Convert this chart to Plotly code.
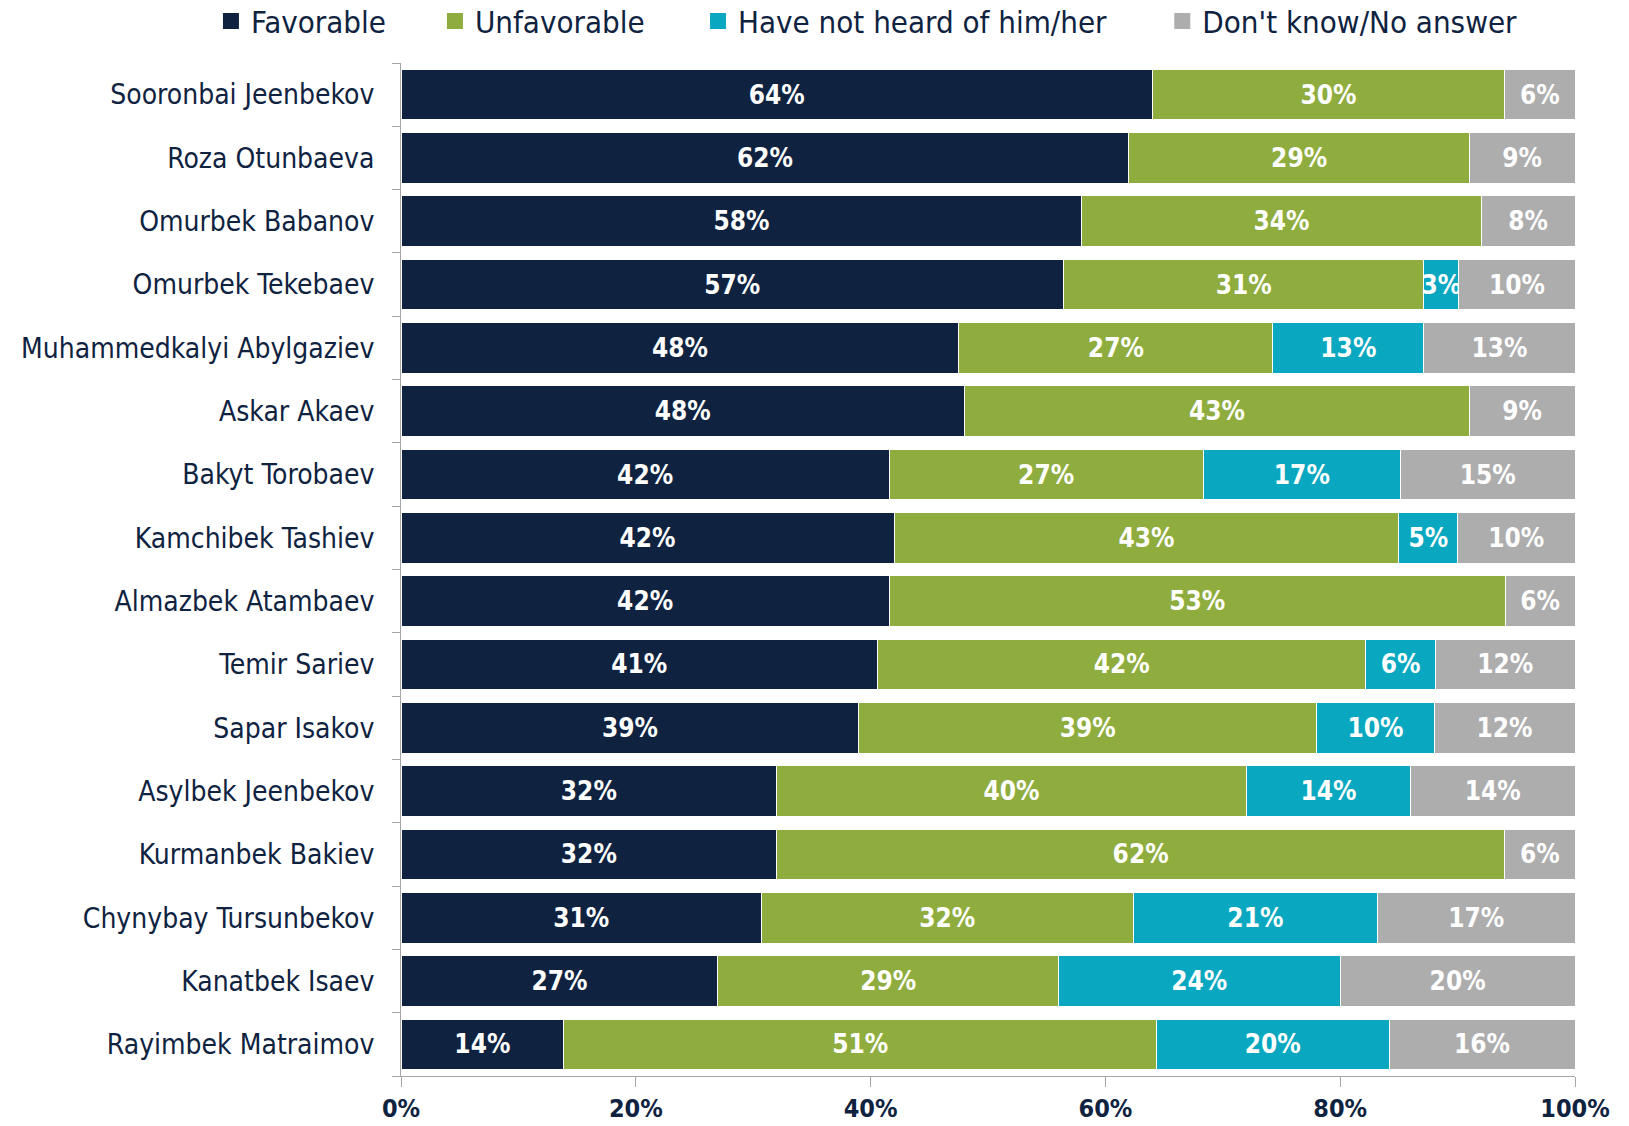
import plotly.graph_objects as go

# Survey: favourability of Kyrgyz political figures (shares of respondents, %)
politicians = [
    "Sooronbai Jeenbekov", "Roza Otunbaeva", "Omurbek Babanov", "Omurbek Tekebaev",
    "Muhammedkalyi Abylgaziev", "Askar Akaev", "Bakyt Torobaev", "Kamchibek Tashiev",
    "Almazbek Atambaev", "Temir Sariev", "Sapar Isakov", "Asylbek Jeenbekov",
    "Kurmanbek Bakiev", "Chynybay Tursunbekov", "Kanatbek Isaev", "Rayimbek Matraimov",
]
favorable = [64, 62, 58, 57, 48, 48, 42, 42, 42, 41, 39, 32, 32, 31, 27, 14]
unfavorable = [30, 29, 34, 31, 27, 43, 27, 43, 53, 42, 39, 40, 62, 32, 29, 51]
not_heard = [0, 0, 0, 3, 13, 0, 17, 5, 0, 6, 10, 14, 0, 21, 24, 20]
dont_know = [6, 9, 8, 10, 13, 9, 15, 10, 6, 12, 12, 14, 6, 17, 20, 16]

series_names = ["Favorable", "Unfavorable", "Have not heard of him/her", "Don't know/No answer"]
x_ticks = [0, 20, 40, 60, 80, 100]

colors = ["#0F2341", "#8FAD3E", "#09A8C0", "#ADADAE"]
FONT = "DejaVu Sans Condensed"
TEXT_COLOR = "#0F2341"
AXIS_GREY = "#A6A6A6"

fig = go.Figure()
series = [favorable, unfavorable, not_heard, dont_know]
for name, vals, col in zip(series_names, series, colors):
    fig.add_trace(go.Bar(
        y=politicians,
        x=vals,
        orientation="h",
        name=name,
        marker=dict(color=col, line=dict(width=1, color="white")),
        text=[f"{v}%" if v > 0 else "" for v in vals],
        textposition="inside",
        insidetextanchor="middle",
        textangle=0,
        constraintext="none",
        textfont=dict(family=FONT, size=26, color="white", weight="bold"),
        hovertemplate="%{y}: %{text}<extra>" + name + "</extra>",
        showlegend=False,
    ))

# Legend entries: square swatches, each in its own legend box
legend_x = [0.1295, 0.267, 0.4285, 0.7135]
legend_ids = ["legend", "legend2", "legend3", "legend4"]
for name, col, lid in zip(series_names, colors, legend_ids):
    fig.add_trace(go.Scatter(
        x=[None], y=[None], mode="markers", name=name,
        marker=dict(symbol="square", size=16, color=col),
        legend=lid, showlegend=True, hoverinfo="skip",
    ))

legend_common = dict(
    orientation="h", xref="container", yref="container",
    y=0.981, yanchor="middle", xanchor="left",
    font=dict(family=FONT, size=31, color=TEXT_COLOR),
    bgcolor="rgba(0,0,0,0)", borderwidth=0, itemsizing="trace",
)
layout_legends = {}
for lid, lx in zip(legend_ids, legend_x):
    layout_legends[lid] = dict(legend_common, x=lx)

fig.update_layout(
    barmode="stack",
    barnorm="percent",
    bargap=0.2,
    width=1629,
    height=1126,
    margin=dict(l=401, r=54, t=63, b=50, autoexpand=False),
    plot_bgcolor="white",
    paper_bgcolor="white",
    font=dict(family=FONT, color=TEXT_COLOR),
    **layout_legends,
)

fig.update_xaxes(
    range=[0, 100],
    tickvals=x_ticks,
    ticktext=[f"{t}%" for t in x_ticks],
    tickfont=dict(family=FONT, size=25, color=TEXT_COLOR, weight="bold"),
    showgrid=False,
    zeroline=False,
    showline=True,
    linecolor=AXIS_GREY,
    linewidth=1,
    ticks="outside",
    ticklen=10,
    tickcolor=AXIS_GREY,
    ticklabelstandoff=0,
    automargin=False,
)
fig.update_yaxes(
    categoryorder="array",
    categoryarray=politicians[::-1],
    range=[-0.5, len(politicians) - 0.5],
    tickfont=dict(family=FONT, size=28, color=TEXT_COLOR),
    showgrid=False,
    zeroline=False,
    showline=True,
    linecolor=AXIS_GREY,
    linewidth=1,
    ticks="outside",
    tickson="boundaries",
    ticklen=8,
    tickcolor=AXIS_GREY,
    ticklabelstandoff=20,
    automargin=False,
)

fig.write_html("out.html")
